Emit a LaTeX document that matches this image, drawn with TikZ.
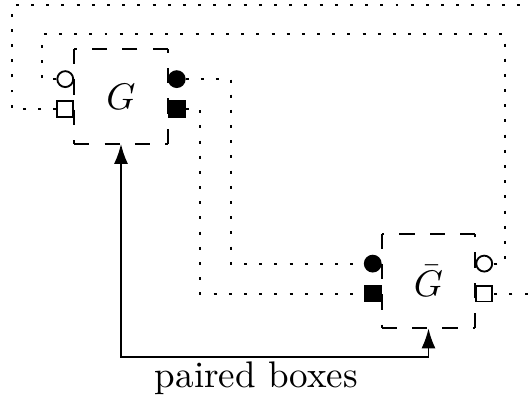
\documentclass[tikz,border=0pt]{standalone}
\usepackage{tikz}
\usetikzlibrary{arrows.meta,positioning}

\begin{document}
\begin{tikzpicture}[
  x=0.27pt, y=-0.27pt, line width=0.5pt,
  gbox/.style={minimum width=24.8pt, minimum height=25.1pt, inner sep=0pt},
  boxline/.style={dash pattern=on 4.1pt off 4.1pt},
  port/.style={draw, inner sep=0pt, minimum size=4.3pt},
  dotport/.style={port, circle},
  sqport/.style={port, rectangle},
  wire/.style={dash pattern=on 0.8pt off 3.3pt},
  >={Latex[length=5.4pt, width=3.8pt]}
]
  \useasboundingbox (0,0) rectangle (531,403);
  \node[gbox] (g) at (121,96.5) {$G$};
  \node[gbox] (gbar) at (428.5,281) {$\bar{G}$};
  % dashed outlines, each side from its own corner
  \foreach \b in {g,gbar}
    \draw[boxline] (\b.north east) -- (\b.north west)
                   (\b.north west) -- (\b.south west)
                   (\b.south west) -- (\b.south east)
                   (\b.south east) -- (\b.north east);
  % ports of G
  \node[dotport, fill=white, anchor=east] (goc) at ([yshift=-8.1pt]g.north west) {};
  \node[sqport, fill=white, anchor=east] (gos) at ([yshift=-16.2pt]g.north west) {};
  \node[dotport, fill, anchor=west] (gfc) at ([yshift=-8.1pt]g.north east) {};
  \node[sqport, fill, anchor=west] (gfs) at ([yshift=-16.2pt]g.north east) {};
  % ports of G bar
  \node[dotport, fill, anchor=east] (hfc) at ([yshift=-8.1pt]gbar.north west) {};
  \node[sqport, fill, anchor=east] (hfs) at ([yshift=-16.2pt]gbar.north west) {};
  \node[dotport, fill=white, anchor=west] (hoc) at ([yshift=-8.1pt]gbar.north east) {};
  \node[sqport, fill=white, anchor=west] (hos) at ([yshift=-16.2pt]gbar.north east) {};
  % wires
  \draw[wire] (gfc) -- ++(54,0) |- (hfc);
  \draw[wire] (gfs) -- ++(23,0) |- (hfs);
  \draw[wire] (goc) -- ++(-23,0) |- (505,34) |- (hoc);
  \draw[wire] (gos) -- ++(-53,0) |- (545,5) |- (hos);
  % pairing
  \node (lbl) at (256.5,378) {paired boxes};
  \coordinate (turn) at (121,357);
  \draw[<->] (g) -- (turn) -| (gbar);
\end{tikzpicture}
\end{document}
